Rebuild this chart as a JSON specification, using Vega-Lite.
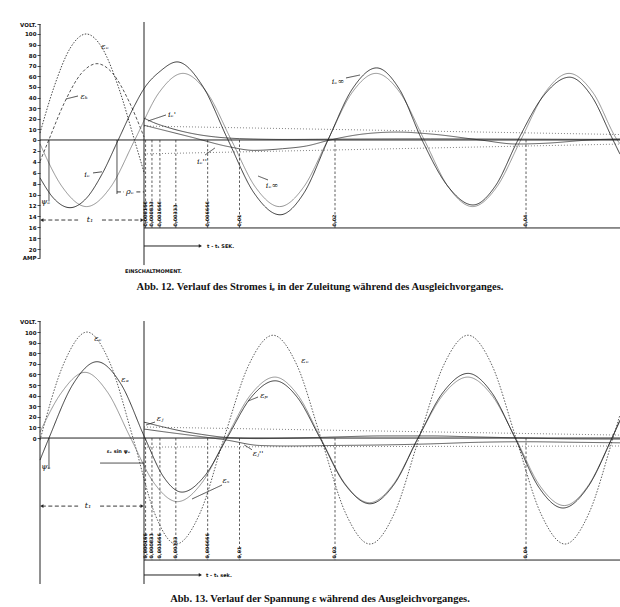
{
  "$schema": "https://vega.github.io/schema/vega-lite/v6.json",
  "background": "white",
  "padding": {"left": 5, "top": 21, "right": 0, "bottom": 0},
  "config": {"view": {"stroke": null}},
  "spacing": 24,
  "datasets": {
    "tm": [
      {"t": 0.166, "text": "0,000166"}, {"t": 0.833, "text": "0,000833"}, {"t": 1.666, "text": "0,001666"},
      {"t": 3.333, "text": "0,00333"}, {"t": 6.666, "text": "0,006666"}, {"t": 10, "text": "0,01"},
      {"t": 20, "text": "0,02"}, {"t": 40, "text": "0,04"}
    ],
    "c1": [
      {"s": "εe", "t": -10.89, "y": 6.5}, {"s": "εe", "t": -9.42, "y": 50}, {"s": "εe", "t": -7.73, "y": 86.6}, {"s": "εe", "t": -6.05, "y": 100},
      {"s": "εe", "t": -4.37, "y": 86.6}, {"s": "εe", "t": -2.68, "y": 50}, {"s": "εe", "t": -1.0, "y": 0}, {"s": "εe", "t": 0, "y": -30.6},
      {"s": "εk", "t": -10.89, "y": -20.3}, {"s": "εk", "t": -9.97, "y": 0}, {"s": "εk", "t": -8.29, "y": 36}, {"s": "εk", "t": -6.6, "y": 62.4},
      {"s": "εk", "t": -4.92, "y": 72}, {"s": "εk", "t": -3.24, "y": 62.4}, {"s": "εk", "t": -1.55, "y": 36}, {"s": "εk", "t": 0, "y": 2.9},
      {"s": "env+", "t": 0, "y": 2.55}, {"s": "env+", "t": 49.84, "y": 1.0},
      {"s": "env-", "t": 0, "y": -2.55}, {"s": "env-", "t": 49.84, "y": -0.75},
      {"s": "ie∞", "t": -10.89, "y": -0.7}, {"s": "ie∞", "t": -8.545, "y": -8.63}, {"s": "ie∞", "t": -6.02, "y": -12.2}, {"s": "ie∞", "t": -3.495, "y": -8.63},
      {"s": "ie∞", "t": -0.97, "y": 0}, {"s": "ie∞", "t": 1.555, "y": 8.63}, {"s": "ie∞", "t": 4.08, "y": 12.2}, {"s": "ie∞", "t": 6.61, "y": 8.63},
      {"s": "ie∞", "t": 9.14, "y": 0}, {"s": "ie∞", "t": 11.665, "y": -8.63}, {"s": "ie∞", "t": 14.19, "y": -12.2}, {"s": "ie∞", "t": 16.715, "y": -8.63},
      {"s": "ie∞", "t": 19.24, "y": 0}, {"s": "ie∞", "t": 21.765, "y": 8.63}, {"s": "ie∞", "t": 24.29, "y": 12.2}, {"s": "ie∞", "t": 26.82, "y": 8.63},
      {"s": "ie∞", "t": 29.35, "y": 0}, {"s": "ie∞", "t": 31.875, "y": -8.63}, {"s": "ie∞", "t": 34.4, "y": -12.2}, {"s": "ie∞", "t": 36.925, "y": -8.63},
      {"s": "ie∞", "t": 39.45, "y": 0}, {"s": "ie∞", "t": 41.975, "y": 8.63}, {"s": "ie∞", "t": 44.5, "y": 12.2}, {"s": "ie∞", "t": 47.025, "y": 8.63},
      {"s": "ie∞", "t": 49.55, "y": 0}, {"s": "ie∞", "t": 49.84, "y": -0.7},
      {"s": "ie'", "t": 0, "y": 4.0}, {"s": "ie'", "t": 1, "y": 3.2}, {"s": "ie'", "t": 2.5, "y": 2.3}, {"s": "ie'", "t": 5, "y": 1.2},
      {"s": "ie'", "t": 7.5, "y": 0.55}, {"s": "ie'", "t": 10, "y": 0.25}, {"s": "ie'", "t": 15, "y": 0.1}, {"s": "ie'", "t": 20, "y": 0.15},
      {"s": "ie'", "t": 30, "y": 0.2}, {"s": "ie'", "t": 40, "y": 0.15}, {"s": "ie'", "t": 49.84, "y": 0.1},
      {"s": "ie''", "t": 0, "y": 2.7}, {"s": "ie''", "t": 2.5, "y": 1.6}, {"s": "ie''", "t": 5, "y": 0.5}, {"s": "ie''", "t": 8.8, "y": -1.2},
      {"s": "ie''", "t": 11.5, "y": -1.9}, {"s": "ie''", "t": 14.5, "y": -1.6}, {"s": "ie''", "t": 17, "y": -1.1}, {"s": "ie''", "t": 19.5, "y": 0},
      {"s": "ie''", "t": 23, "y": 1.1}, {"s": "ie''", "t": 26.5, "y": 1.45}, {"s": "ie''", "t": 30, "y": 1.1}, {"s": "ie''", "t": 35.2, "y": 0},
      {"s": "ie''", "t": 39, "y": -0.74}, {"s": "ie''", "t": 42, "y": -0.6}, {"s": "ie''", "t": 46.7, "y": 0}, {"s": "ie''", "t": 49.84, "y": 0.2},
      {"s": "ie", "t": -10.89, "y": -6.93}, {"s": "ie", "t": -9.43, "y": -10.74}, {"s": "ie", "t": -7.75, "y": -12.4}, {"s": "ie", "t": -6.07, "y": -10.74},
      {"s": "ie", "t": -4.38, "y": -6.2}, {"s": "ie", "t": -2.7, "y": 0}, {"s": "ie", "t": -1.02, "y": 6.2}, {"s": "ie", "t": 0, "y": 9.4},
      {"s": "ie", "t": 1.7, "y": 12.6}, {"s": "ie", "t": 3.46, "y": 14.3}, {"s": "ie", "t": 6.13, "y": 9.9}, {"s": "ie", "t": 8.8, "y": 0},
      {"s": "ie", "t": 11.52, "y": -9.7}, {"s": "ie", "t": 14.24, "y": -13.7}, {"s": "ie", "t": 16.75, "y": -9.7}, {"s": "ie", "t": 19.27, "y": 0},
      {"s": "ie", "t": 21.81, "y": 9.33}, {"s": "ie", "t": 24.35, "y": 13.2}, {"s": "ie", "t": 26.73, "y": 9.33}, {"s": "ie", "t": 29.11, "y": 0},
      {"s": "ie", "t": 31.78, "y": -8.4}, {"s": "ie", "t": 34.45, "y": -11.9}, {"s": "ie", "t": 36.8, "y": -8.4}, {"s": "ie", "t": 39.16, "y": 0},
      {"s": "ie", "t": 41.85, "y": 8.13}, {"s": "ie", "t": 44.55, "y": 11.5}, {"s": "ie", "t": 46.83, "y": 8.13}, {"s": "ie", "t": 49.11, "y": 0},
      {"s": "ie", "t": 49.84, "y": -2.6}
    ],
    "seg1": [
      {"t": -10.89, "t2": -10.89, "v": 109.4, "v2": -111.3, "k": "frame"},
      {"t": -10.89, "t2": 49.84, "v": 0, "v2": 0, "k": "frame"},
      {"t": 0, "t2": 0, "v": 111.3, "v2": -118, "k": "frame"},
      {"t": 0, "t2": 49.84, "v": -83, "v2": -83, "k": "frame"},
      {"t": 0, "t2": 5.9, "v": -100, "v2": -100, "k": "frame"},
      {"t": -10.7, "t2": -6.9, "v": -75.5, "v2": -75.5, "k": "dim"},
      {"t": -4.4, "t2": -0.2, "v": -75.5, "v2": -75.5, "k": "dim"},
      {"t": -2.83, "t2": -2.83, "v": 0, "v2": -51, "k": "leader"},
      {"t": -2.83, "t2": -2.1, "v": -49, "v2": -49, "k": "dim"},
      {"t": -0.8, "t2": 0, "v": -49, "v2": -49, "k": "dim"},
      {"t": -9.95, "t2": -9.95, "v": 0, "v2": -58, "k": "leader"},
      {"t": -6.91, "t2": -8.17, "v": 41.5, "v2": 38.7, "k": "leader"},
      {"t": -5.34, "t2": -4.4, "v": -31.1, "v2": -30, "k": "leader"},
      {"t": 2.3, "t2": 0.42, "v": 23.6, "v2": 17.9, "k": "leader"},
      {"t": 6.39, "t2": 7.43, "v": -14.2, "v2": -7.5, "k": "leader"},
      {"t": 12.98, "t2": 11.94, "v": -37.7, "v2": -34, "k": "leader"},
      {"t": 21.15, "t2": 22.62, "v": 58.5, "v2": 61.3, "k": "leader"}
    ],
    "arr1": [
      {"t": 5.9, "v": -100, "dir": "right"}, {"t": -10.7, "v": -75.5, "dir": "left"}, {"t": -0.2, "v": -75.5, "dir": "right"}
    ],
    "lab1": [
      {"t": -4.08, "v": 87.7, "text": "εₑ"}, {"t": -6.28, "v": 40.6, "text": "εₖ"}, {"t": -5.97, "v": -33, "text": "iₑ"},
      {"t": 2.93, "v": 23.6, "text": "iₑ'"}, {"t": 6.07, "v": -20.8, "text": "iₑ''"}, {"t": 13.4, "v": -43.4, "text": "iₑ∞"},
      {"t": 20.3, "v": 54.7, "text": "iₑ∞"}, {"t": -1.47, "v": -49, "text": "ρₑ"}, {"t": -10.3, "v": -58.5, "text": "ψₑ"},
      {"t": -5.65, "v": -75.5, "text": "t₁"}
    ],
    "note1": [
      {"t": -1.99, "v": -123.6, "text": "EINSCHALTMOMENT."}, {"t": 6.6, "v": -100, "text": "t - t₁ SEK."}
    ],
    "c2": [
      {"s": "env+", "t": 0, "y": 10.4}, {"s": "env+", "t": 49.84, "y": 2.8},
      {"s": "env-", "t": 0, "y": -8.5}, {"s": "env-", "t": 49.84, "y": -7.5},
      {"s": "εe", "t": -10.89, "y": -2}, {"s": "εe", "t": -8.38, "y": 70.7}, {"s": "εe", "t": -5.97, "y": 100}, {"s": "εe", "t": -3.56, "y": 70.7},
      {"s": "εe", "t": -1.15, "y": 0}, {"s": "εe", "t": 1.1, "y": -70.7}, {"s": "εe", "t": 3.35, "y": -100}, {"s": "εe", "t": 5.87, "y": -70.7},
      {"s": "εe", "t": 8.38, "y": 0}, {"s": "εe", "t": 10.95, "y": 68.6}, {"s": "εe", "t": 13.51, "y": 97}, {"s": "εe", "t": 16.02, "y": 68.6},
      {"s": "εe", "t": 18.53, "y": 0}, {"s": "εe", "t": 21.1, "y": -70.7}, {"s": "εe", "t": 23.66, "y": -100}, {"s": "εe", "t": 26.23, "y": -70.7},
      {"s": "εe", "t": 28.8, "y": 0}, {"s": "εe", "t": 31.37, "y": 68.6}, {"s": "εe", "t": 33.93, "y": 97}, {"s": "εe", "t": 36.44, "y": 68.6},
      {"s": "εe", "t": 38.95, "y": 0}, {"s": "εe", "t": 41.52, "y": -70.7}, {"s": "εe", "t": 44.08, "y": -100}, {"s": "εe", "t": 46.6, "y": -70.7},
      {"s": "εe", "t": 49.11, "y": 0}, {"s": "εe", "t": 49.84, "y": 22},
      {"s": "εs", "t": -10.89, "y": 5.5}, {"s": "εs", "t": -8.68, "y": 42.4}, {"s": "εs", "t": -6.18, "y": 62}, {"s": "εs", "t": -3.8, "y": 43},
      {"s": "εs", "t": -1.4, "y": 0}, {"s": "εs", "t": 1.05, "y": -42.4}, {"s": "εs", "t": 3.5, "y": -60}, {"s": "εs", "t": 6.05, "y": -42.4},
      {"s": "εs", "t": 8.6, "y": 0}, {"s": "εs", "t": 11.15, "y": 40.6}, {"s": "εs", "t": 13.7, "y": 57.5}, {"s": "εs", "t": 16.1, "y": 40.6},
      {"s": "εs", "t": 18.5, "y": 0}, {"s": "εs", "t": 21.05, "y": -43.1}, {"s": "εs", "t": 23.6, "y": -61}, {"s": "εs", "t": 26.15, "y": -43.1},
      {"s": "εs", "t": 28.7, "y": 0}, {"s": "εs", "t": 31.3, "y": 40.6}, {"s": "εs", "t": 33.9, "y": 57.5}, {"s": "εs", "t": 36.4, "y": 40.6},
      {"s": "εs", "t": 38.9, "y": 0}, {"s": "εs", "t": 41.45, "y": -45}, {"s": "εs", "t": 44.0, "y": -63.7}, {"s": "εs", "t": 46.5, "y": -45},
      {"s": "εs", "t": 49.0, "y": 0}, {"s": "εs", "t": 49.84, "y": 16},
      {"s": "εj'", "t": 0, "y": 15}, {"s": "εj'", "t": 2, "y": 10.5}, {"s": "εj'", "t": 4, "y": 6.5}, {"s": "εj'", "t": 6, "y": 3.5},
      {"s": "εj'", "t": 8.7, "y": 0.5}, {"s": "εj'", "t": 12, "y": -0.5}, {"s": "εj'", "t": 16, "y": 0}, {"s": "εj'", "t": 20, "y": 1},
      {"s": "εj'", "t": 25, "y": 2}, {"s": "εj'", "t": 30, "y": 2}, {"s": "εj'", "t": 35, "y": 1}, {"s": "εj'", "t": 40, "y": 0},
      {"s": "εj'", "t": 45, "y": -0.8}, {"s": "εj'", "t": 49.84, "y": -1},
      {"s": "εj''", "t": 0, "y": 8.5}, {"s": "εj''", "t": 2, "y": 6}, {"s": "εj''", "t": 5, "y": 2.5}, {"s": "εj''", "t": 8.7, "y": -2},
      {"s": "εj''", "t": 12.1, "y": -7}, {"s": "εj''", "t": 15, "y": -7.5}, {"s": "εj''", "t": 20, "y": -7}, {"s": "εj''", "t": 25, "y": -6.5},
      {"s": "εj''", "t": 30, "y": -5.5}, {"s": "εj''", "t": 35, "y": -4}, {"s": "εj''", "t": 40, "y": -3.5}, {"s": "εj''", "t": 45, "y": -4},
      {"s": "εj''", "t": 49.84, "y": -4.5},
      {"s": "εa", "t": -10.89, "y": -20.8}, {"s": "εa", "t": -9.95, "y": 0}, {"s": "εa", "t": -7.43, "y": 50.9}, {"s": "εa", "t": -4.92, "y": 72},
      {"s": "εa", "t": -2.41, "y": 50.9}, {"s": "εa", "t": 0.1, "y": 0}, {"s": "εa", "t": 2.0, "y": -36}, {"s": "εa", "t": 3.98, "y": -51},
      {"s": "εa", "t": 6.33, "y": -36}, {"s": "εa", "t": 8.69, "y": 0}, {"s": "εa", "t": 11.2, "y": 38.2}, {"s": "εa", "t": 13.72, "y": 54},
      {"s": "εa", "t": 16.07, "y": 38.2}, {"s": "εa", "t": 18.43, "y": 0}, {"s": "εa", "t": 21.05, "y": -43.8}, {"s": "εa", "t": 23.66, "y": -62},
      {"s": "εa", "t": 26.18, "y": -43.8}, {"s": "εa", "t": 28.69, "y": 0}, {"s": "εa", "t": 31.31, "y": 43.1}, {"s": "εa", "t": 33.93, "y": 61},
      {"s": "εa", "t": 36.39, "y": 43.1}, {"s": "εa", "t": 38.85, "y": 0}, {"s": "εa", "t": 41.36, "y": -46.7}, {"s": "εa", "t": 43.87, "y": -66},
      {"s": "εa", "t": 46.44, "y": -46.7}, {"s": "εa", "t": 49.0, "y": 0}, {"s": "εa", "t": 49.84, "y": 17}
    ],
    "seg2": [
      {"t": -10.89, "t2": -10.89, "v": 110.4, "v2": -137.7, "k": "frame"},
      {"t": -10.89, "t2": 49.84, "v": 0, "v2": 0, "k": "frame"},
      {"t": 0, "t2": 0, "v": 110.4, "v2": -137.7, "k": "frame"},
      {"t": 0, "t2": 49.84, "v": -115.1, "v2": -115.1, "k": "frame"},
      {"t": 0, "t2": 5.9, "v": -129.2, "v2": -129.2, "k": "frame"},
      {"t": -10.7, "t2": -6.9, "v": -64.2, "v2": -64.2, "k": "dim"},
      {"t": -4.6, "t2": -0.2, "v": -64.2, "v2": -64.2, "k": "dim"},
      {"t": -9.95, "t2": -9.95, "v": 0, "v2": -29, "k": "leader"},
      {"t": -4.6, "t2": 0, "v": -23.6, "v2": -23.6, "k": "leader"},
      {"t": 1.15, "t2": 0.21, "v": 15.1, "v2": 12.3, "k": "leader"},
      {"t": 11.94, "t2": 10.89, "v": 38.7, "v2": 34.9, "k": "leader"},
      {"t": 11.3, "t2": 10.5, "v": -11, "v2": -6.5, "k": "leader"},
      {"t": 8.17, "t2": 5.03, "v": -44.3, "v2": -57.5, "k": "leader"}
    ],
    "arr2": [
      {"t": 5.9, "v": -129.2, "dir": "right"}, {"t": -10.7, "v": -64.2, "dir": "left"}, {"t": -0.2, "v": -64.2, "dir": "right"}
    ],
    "lab2": [
      {"t": -4.82, "v": 93.4, "text": "εₑ"}, {"t": -1.99, "v": 54.7, "text": "εₐ"}, {"t": 1.68, "v": 17.9, "text": "εⱼ"},
      {"t": 12.57, "v": 39.6, "text": "εₚ"}, {"t": 11.94, "v": -15.1, "text": "εⱼ''"}, {"t": 8.59, "v": -40.6, "text": "εₛ"},
      {"t": 16.86, "v": 72.6, "text": "εₑ"}, {"t": -10.26, "v": -27.4, "text": "ψₑ"}, {"t": -5.86, "v": -64.2, "text": "t₁"}
    ],
    "note2": [
      {"t": -3.9, "v": -12.3, "text": "εₑ sin ψₑ"}, {"t": 6.49, "v": -129.2, "text": "t - t₁ sek."}
    ]
  },
  "vconcat": [
    {
      "width": 580,
      "height": 256,
      "title": {"text": "Abb. 12.  Verlauf des Stromes iₑ in der Zuleitung während des Ausgleichvorganges.", "orient": "bottom", "anchor": "middle", "offset": 4, "font": "Liberation Serif", "fontSize": 10.5, "fontWeight": "bold", "color": "#111", "dx": -10},
      "resolve": {"scale": {"y": "independent", "color": "independent", "strokeDash": "independent", "strokeWidth": "independent", "shape": "independent"}},
      "layer": [
        {
          "data": {"name": "c1"},
          "transform": [{"filter": {"field": "s", "oneOf": ["εe", "εk"]}}],
          "mark": {"type": "line", "interpolate": "monotone"},
          "encoding": {
            "x": {"field": "t", "type": "quantitative", "scale": {"domain": [-10.89, 49.84], "nice": false, "zero": false}, "axis": null},
            "y": {"field": "y", "type": "quantitative", "scale": {"domain": [-130.2, 111.3], "nice": false, "zero": false},
              "axis": {"values": [109.4, 100, 90, 80, 70, 60, 50, 40, 30, 20, 10, 0, -10.3, -20.6, -30.9, -41.2, -51.5, -61.8, -72.1, -82.4, -92.7, -103, -111.3],
                "labelExpr": "datum.value > 105 ? 'VOLT.' : datum.value < -106 ? 'AMP' : datum.value >= 0 ? format(datum.value, 'd') : format(-datum.value / 5.15, '.0f')",
                "domain": false, "grid": false, "tickSize": 3, "tickWidth": 0.8, "tickColor": "#222", "labelFont": "DejaVu Sans", "labelFontSize": 5.5, "labelFontWeight": "bold", "labelColor": "#111", "labelPadding": 1, "minExtent": 35, "maxExtent": 35, "title": null, "labelOverlap": false, "labelBound": false, "labelFlush": false}},
            "color": {"field": "s", "type": "nominal", "scale": {"domain": ["εe", "εk"], "range": ["#333333", "#444444"]}, "legend": null},
            "strokeDash": {"field": "s", "type": "nominal", "scale": {"domain": ["εe", "εk"], "range": [[1.5, 1.5], [3, 2]]}, "legend": null},
            "strokeWidth": {"value": 0.9}
          }
        },
        {
          "data": {"name": "c1"},
          "transform": [{"filter": {"field": "s", "oneOf": ["env+", "env-", "ie∞", "ie'", "ie''", "ie"]}}],
          "mark": {"type": "line", "interpolate": "monotone"},
          "encoding": {
            "x": {"field": "t", "type": "quantitative", "scale": {"domain": [-10.89, 49.84], "nice": false, "zero": false}, "axis": null},
            "y": {"field": "y", "type": "quantitative", "scale": {"domain": [-25.28, 21.61], "nice": false, "zero": false}, "axis": null},
            "color": {"field": "s", "type": "nominal", "scale": {"domain": ["env+", "env-", "ie∞", "ie'", "ie''", "ie"], "range": ["#666666", "#666666", "#777777", "#222222", "#333333", "#0a0a0a"]}, "legend": null},
            "strokeDash": {"field": "s", "type": "nominal", "scale": {"domain": ["env+", "env-", "ie∞", "ie'", "ie''", "ie"], "range": [[1, 2], [1, 2], [1, 0], [1, 0], [1, 0], [1, 0]]}, "legend": null},
            "strokeWidth": {"field": "s", "type": "nominal", "scale": {"domain": ["env+", "env-", "ie∞", "ie'", "ie''", "ie"], "range": [0.8, 0.8, 1.1, 1.4, 1.0, 2.6]}, "legend": null}
          }
        },
        {
          "data": {"name": "seg1"},
          "mark": {"type": "rule", "color": "#222222"},
          "encoding": {
            "x": {"field": "t", "type": "quantitative", "scale": {"domain": [-10.89, 49.84], "nice": false, "zero": false}, "axis": null},
            "x2": {"field": "t2"},
            "y": {"field": "v", "type": "quantitative", "scale": {"domain": [-130.2, 111.3], "nice": false, "zero": false}, "axis": null},
            "y2": {"field": "v2"},
            "strokeDash": {"field": "k", "type": "nominal", "scale": {"domain": ["frame", "dim", "leader"], "range": [[1, 0], [4, 2.5], [1, 0]]}, "legend": null},
            "strokeWidth": {"field": "k", "type": "nominal", "scale": {"domain": ["frame", "dim", "leader"], "range": [1, 0.8, 0.7]}, "legend": null}
          }
        },
        {
          "data": {"name": "tm"},
          "mark": {"type": "rule", "color": "#333333", "strokeDash": [2.5, 2], "strokeWidth": 0.8},
          "encoding": {
            "x": {"field": "t", "type": "quantitative", "scale": {"domain": [-10.89, 49.84], "nice": false, "zero": false}, "axis": null},
            "y": {"datum": 0, "type": "quantitative", "scale": {"domain": [-130.2, 111.3], "nice": false, "zero": false}, "axis": null},
            "y2": {"datum": -83}
          }
        },
        {
          "data": {"name": "tm"},
          "mark": {"type": "text", "angle": 270, "align": "left", "baseline": "middle", "font": "DejaVu Sans", "fontSize": 4.8, "fontWeight": "bold", "color": "#111111"},
          "encoding": {
            "x": {"field": "t", "type": "quantitative", "scale": {"domain": [-10.89, 49.84], "nice": false, "zero": false}, "axis": null},
            "y": {"datum": -81.5, "type": "quantitative", "scale": {"domain": [-130.2, 111.3], "nice": false, "zero": false}, "axis": null},
            "text": {"field": "text"}
          }
        },
        {
          "data": {"name": "arr1"},
          "mark": {"type": "point", "filled": true, "size": 14, "color": "#222222", "opacity": 1},
          "encoding": {
            "x": {"field": "t", "type": "quantitative", "scale": {"domain": [-10.89, 49.84], "nice": false, "zero": false}, "axis": null},
            "y": {"field": "v", "type": "quantitative", "scale": {"domain": [-130.2, 111.3], "nice": false, "zero": false}, "axis": null},
            "shape": {"field": "dir", "type": "nominal", "scale": {"domain": ["left", "right"], "range": ["triangle-left", "triangle-right"]}, "legend": null}
          }
        },
        {
          "data": {"name": "lab1"},
          "mark": {"type": "text", "font": "DejaVu Serif", "fontStyle": "italic", "fontSize": 8, "color": "#111111"},
          "encoding": {
            "x": {"field": "t", "type": "quantitative", "scale": {"domain": [-10.89, 49.84], "nice": false, "zero": false}, "axis": null},
            "y": {"field": "v", "type": "quantitative", "scale": {"domain": [-130.2, 111.3], "nice": false, "zero": false}, "axis": null},
            "text": {"field": "text"}
          }
        },
        {
          "data": {"name": "note1"},
          "mark": {"type": "text", "align": "left", "font": "DejaVu Sans", "fontSize": 5, "fontWeight": "bold", "color": "#111111"},
          "encoding": {
            "x": {"field": "t", "type": "quantitative", "scale": {"domain": [-10.89, 49.84], "nice": false, "zero": false}, "axis": null},
            "y": {"field": "v", "type": "quantitative", "scale": {"domain": [-130.2, 111.3], "nice": false, "zero": false}, "axis": null},
            "text": {"field": "text"}
          }
        }
      ]
    },
    {
      "width": 580,
      "height": 267,
      "title": {"text": "Abb. 13.  Verlauf der Spannung ε während des Ausgleichvorganges.", "orient": "bottom", "anchor": "middle", "offset": 9, "font": "Liberation Serif", "fontSize": 10.5, "fontWeight": "bold", "color": "#111", "dx": -10},
      "resolve": {"scale": {"y": "independent", "color": "independent", "strokeDash": "independent", "strokeWidth": "independent", "shape": "independent"}},
      "layer": [
        {
          "data": {"name": "c2"},
          "mark": {"type": "line", "interpolate": "monotone"},
          "encoding": {
            "x": {"field": "t", "type": "quantitative", "scale": {"domain": [-10.89, 49.84], "nice": false, "zero": false}, "axis": null},
            "y": {"field": "y", "type": "quantitative", "scale": {"domain": [-137.7, 114.2], "nice": false, "zero": false},
              "axis": {"values": [110.4, 100, 90, 80, 70, 60, 50, 40, 30, 20, 10, 0],
                "labelExpr": "datum.value > 105 ? 'VOLT.' : format(datum.value, 'd')",
                "domain": false, "grid": false, "tickSize": 3, "tickWidth": 0.8, "tickColor": "#222", "labelFont": "DejaVu Sans", "labelFontSize": 5.5, "labelFontWeight": "bold", "labelColor": "#111", "labelPadding": 1, "minExtent": 35, "maxExtent": 35, "title": null, "labelOverlap": false, "labelBound": false, "labelFlush": false}},
            "color": {"field": "s", "type": "nominal", "scale": {"domain": ["env+", "env-", "εe", "εs", "εj'", "εj''", "εa"], "range": ["#666666", "#666666", "#333333", "#777777", "#222222", "#333333", "#0a0a0a"]}, "legend": null},
            "strokeDash": {"field": "s", "type": "nominal", "scale": {"domain": ["env+", "env-", "εe", "εs", "εj'", "εj''", "εa"], "range": [[1, 2], [1, 2], [1.5, 1.5], [1, 0], [1, 0], [1, 0], [1, 0]]}, "legend": null},
            "strokeWidth": {"field": "s", "type": "nominal", "scale": {"domain": ["env+", "env-", "εe", "εs", "εj'", "εj''", "εa"], "range": [0.8, 0.8, 0.9, 1.1, 1.3, 1.0, 2.6]}, "legend": null}
          }
        },
        {
          "data": {"name": "seg2"},
          "mark": {"type": "rule", "color": "#222222"},
          "encoding": {
            "x": {"field": "t", "type": "quantitative", "scale": {"domain": [-10.89, 49.84], "nice": false, "zero": false}, "axis": null},
            "x2": {"field": "t2"},
            "y": {"field": "v", "type": "quantitative", "scale": {"domain": [-137.7, 114.2], "nice": false, "zero": false}, "axis": null},
            "y2": {"field": "v2"},
            "strokeDash": {"field": "k", "type": "nominal", "scale": {"domain": ["frame", "dim", "leader"], "range": [[1, 0], [4, 2.5], [1, 0]]}, "legend": null},
            "strokeWidth": {"field": "k", "type": "nominal", "scale": {"domain": ["frame", "dim", "leader"], "range": [1, 0.8, 0.7]}, "legend": null}
          }
        },
        {
          "data": {"name": "tm"},
          "mark": {"type": "rule", "color": "#333333", "strokeDash": [2.5, 2], "strokeWidth": 0.8},
          "encoding": {
            "x": {"field": "t", "type": "quantitative", "scale": {"domain": [-10.89, 49.84], "nice": false, "zero": false}, "axis": null},
            "y": {"datum": 0, "type": "quantitative", "scale": {"domain": [-137.7, 114.2], "nice": false, "zero": false}, "axis": null},
            "y2": {"datum": -115.1}
          }
        },
        {
          "data": {"name": "tm"},
          "mark": {"type": "text", "angle": 270, "align": "left", "baseline": "middle", "font": "DejaVu Sans", "fontSize": 4.8, "fontWeight": "bold", "color": "#111111"},
          "encoding": {
            "x": {"field": "t", "type": "quantitative", "scale": {"domain": [-10.89, 49.84], "nice": false, "zero": false}, "axis": null},
            "y": {"datum": -113.6, "type": "quantitative", "scale": {"domain": [-137.7, 114.2], "nice": false, "zero": false}, "axis": null},
            "text": {"field": "text"}
          }
        },
        {
          "data": {"name": "arr2"},
          "mark": {"type": "point", "filled": true, "size": 14, "color": "#222222", "opacity": 1},
          "encoding": {
            "x": {"field": "t", "type": "quantitative", "scale": {"domain": [-10.89, 49.84], "nice": false, "zero": false}, "axis": null},
            "y": {"field": "v", "type": "quantitative", "scale": {"domain": [-137.7, 114.2], "nice": false, "zero": false}, "axis": null},
            "shape": {"field": "dir", "type": "nominal", "scale": {"domain": ["left", "right"], "range": ["triangle-left", "triangle-right"]}, "legend": null}
          }
        },
        {
          "data": {"name": "lab2"},
          "mark": {"type": "text", "font": "DejaVu Serif", "fontStyle": "italic", "fontSize": 8, "color": "#111111"},
          "encoding": {
            "x": {"field": "t", "type": "quantitative", "scale": {"domain": [-10.89, 49.84], "nice": false, "zero": false}, "axis": null},
            "y": {"field": "v", "type": "quantitative", "scale": {"domain": [-137.7, 114.2], "nice": false, "zero": false}, "axis": null},
            "text": {"field": "text"}
          }
        },
        {
          "data": {"name": "note2"},
          "mark": {"type": "text", "align": "left", "font": "DejaVu Sans", "fontSize": 5, "fontWeight": "bold", "color": "#111111"},
          "encoding": {
            "x": {"field": "t", "type": "quantitative", "scale": {"domain": [-10.89, 49.84], "nice": false, "zero": false}, "axis": null},
            "y": {"field": "v", "type": "quantitative", "scale": {"domain": [-137.7, 114.2], "nice": false, "zero": false}, "axis": null},
            "text": {"field": "text"}
          }
        }
      ]
    }
  ]
}
